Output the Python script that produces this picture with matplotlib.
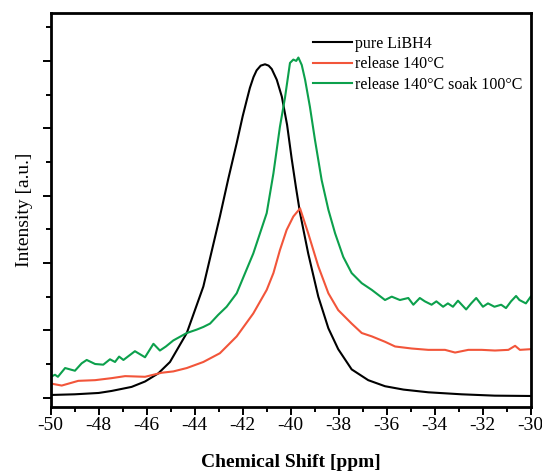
import matplotlib
matplotlib.use("Agg")
import matplotlib.pyplot as plt
from matplotlib.ticker import MultipleLocator, NullFormatter

# values (ppm, arbitrary intensity units)
x_pure = [-50, -49, -48, -47.46, -46.63, -46.07, -45.52, -45.03, -44.33, -43.64,
          -42.95, -42.6, -42.25, -42.0, -41.83, -41.7, -41.55, -41.42, -41.25,
          -41.07, -40.92, -40.79, -40.58, -40.37, -40.15, -39.96, -39.78, -39.61,
          -39.27, -38.85, -38.43, -38.02, -37.46, -36.77, -36.07, -35.3, -34.27,
          -32.88, -31.5, -30]
y_pure = [0.04, 0.05, 0.07, 0.10, 0.16, 0.24, 0.36, 0.53, 0.96, 1.65,
          2.69, 3.25, 3.78, 4.18, 4.42, 4.60, 4.76, 4.86, 4.93,
          4.95, 4.93, 4.88, 4.72, 4.47, 4.05, 3.55, 3.12, 2.74,
          2.14, 1.50, 1.03, 0.72, 0.42, 0.26, 0.17, 0.12, 0.08,
          0.05, 0.03, 0.025]

x_release = [-50, -49.54, -48.85, -48.15, -47.46, -46.9, -46.07, -45.38, -44.89,
             -44.33, -43.64, -42.95, -42.25, -41.56, -41.0, -40.72, -40.45,
             -40.17, -39.89, -39.61, -39.27, -38.85, -38.43, -38.02, -37.46,
             -37.04, -36.62, -36.07, -35.65, -34.96, -34.27, -33.57, -33.15,
             -32.6, -32.04, -31.49, -30.93, -30.65, -30.45, -30]
y_release = [0.21, 0.18, 0.25, 0.26, 0.29, 0.32, 0.31, 0.37, 0.39,
             0.44, 0.53, 0.66, 0.91, 1.25, 1.60, 1.85, 2.19,
             2.49, 2.69, 2.81, 2.44, 1.95, 1.55, 1.30, 1.10,
             0.96, 0.91, 0.83, 0.76, 0.73, 0.71, 0.71, 0.67,
             0.71, 0.71, 0.70, 0.71, 0.77, 0.71, 0.72]

x_soak = [-50, -49.82, -49.7, -49.4, -48.99, -48.71, -48.5, -48.15, -47.81, -47.53,
          -47.32, -47.15, -46.97, -46.49, -46.07, -45.72, -45.45, -45.2, -44.89,
          -44.33, -43.92, -43.64, -43.36, -43.02, -42.67, -42.25, -41.9, -41.56,
          -41.28, -41.0, -40.72, -40.45, -40.24, -40.03, -39.89, -39.77, -39.68,
          -39.54, -39.4, -39.2, -38.99, -38.71, -38.43, -38.15, -37.81, -37.46,
          -37.04, -36.62, -36.07, -35.79, -35.45, -35.1, -34.89, -34.62, -34.41,
          -34.13, -33.93, -33.65, -33.45, -33.24, -33.03, -32.69, -32.48, -32.27,
          -31.99, -31.78, -31.51, -31.23, -31.03, -30.82, -30.61, -30.47, -30.2, -30]
y_soak = [0.31, 0.34, 0.31, 0.44, 0.40, 0.51, 0.56, 0.50, 0.49, 0.57,
          0.53, 0.61, 0.56, 0.69, 0.60, 0.80, 0.70, 0.76, 0.85,
          0.96, 1.01, 1.05, 1.10, 1.23, 1.35, 1.55, 1.85, 2.14,
          2.44, 2.74, 3.33, 4.02, 4.45, 4.97, 5.02, 5.00, 5.05,
          4.94, 4.72, 4.32, 3.83, 3.23, 2.79, 2.44, 2.09, 1.85,
          1.70, 1.60, 1.45, 1.50, 1.45, 1.48, 1.38, 1.48, 1.43,
          1.38, 1.43, 1.35, 1.40, 1.35, 1.44, 1.31, 1.40, 1.48,
          1.35, 1.40, 1.35, 1.38, 1.33, 1.43, 1.51, 1.45, 1.40, 1.50]

labels = ["pure LiBH4", "release 140\u00b0C", "release 140\u00b0C soak 100\u00b0C"]
colors = ["black", "#f2553a", "#0ca04c"]

plt.rcParams['font.family'] = ['Liberation Serif', 'DejaVu Serif']
plt.rcParams['axes.unicode_minus'] = False

fig = plt.figure(figsize=(5.42, 4.71), dpi=100)
ax = fig.add_axes([50.7 / 542, 64.3 / 471, 480 / 542, 393.4 / 471])

ax.plot(x_pure, y_pure, color=colors[0], lw=1.5, label=labels[0])
ax.plot(x_release, y_release, color=colors[1], lw=1.5, label=labels[1])
ax.plot(x_soak, y_soak, color=colors[2], lw=1.5, label=labels[2])

ax.set_xlim(-50, -30)
ax.set_ylim(-0.134, 5.707)

ax.xaxis.set_major_locator(MultipleLocator(2))
ax.xaxis.set_minor_locator(MultipleLocator(1))
ax.yaxis.set_major_locator(MultipleLocator(1))
ax.yaxis.set_minor_locator(MultipleLocator(0.5))
ax.yaxis.set_major_formatter(NullFormatter())
ax.tick_params(which='both', direction='out', top=False, right=False, width=1.4,
               labelsize=14, pad=2)
ax.tick_params(which='major', length=5.5)
ax.tick_params(which='minor', length=3.4)
for s in ax.spines.values():
    s.set_linewidth(2)

ax.set_xlabel("Chemical Shift [ppm]", fontsize=14, fontweight='bold', labelpad=14)
ax.set_ylabel("Intensity [a.u.]", fontsize=14, labelpad=5)

ax.legend(loc='upper left', bbox_to_anchor=(313 / 542, 1 - 36 / 471),
          bbox_transform=fig.transFigure, frameon=False, fontsize=11.5,
          handlelength=2.45, handletextpad=0.2, labelspacing=0.27,
          borderpad=0, borderaxespad=0)

fig.savefig("out.png", dpi=100)
